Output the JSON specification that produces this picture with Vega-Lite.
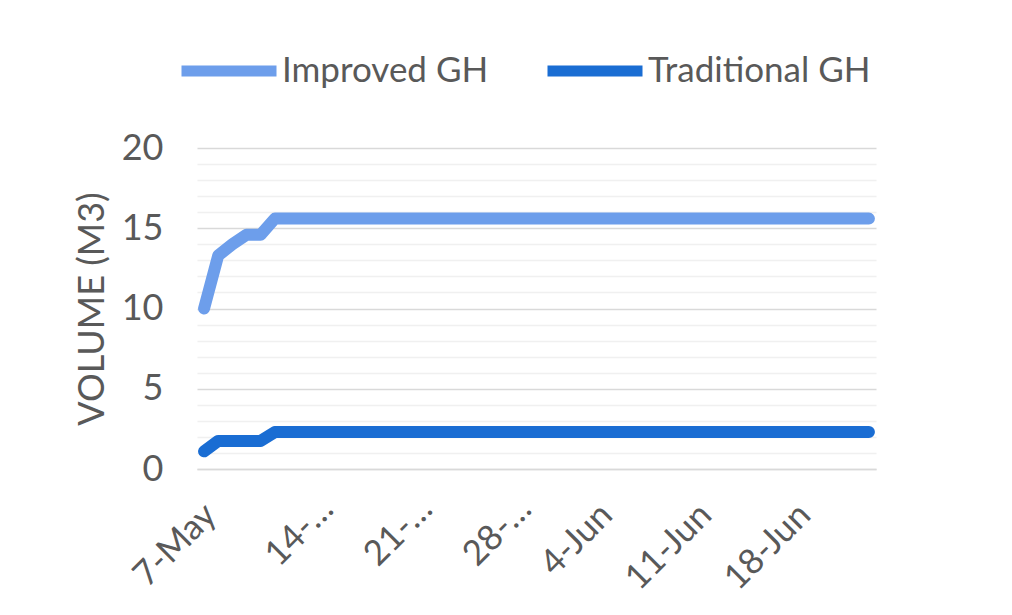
{
  "$schema": "https://vega.github.io/schema/vega-lite/v6.json",
  "autosize": {"type": "none"},
  "width": 679,
  "height": 321,
  "padding": {"left": 197, "top": 148, "right": 136, "bottom": 146},
  "background": "white",
  "config": {
    "view": {"stroke": null},
    "font": "Lato",
    "axis": {"labelFont": "Lato", "titleFont": "Lato"},
    "legend": {"labelFont": "Lato"}
  },
  "data": {
    "values": [
      {"date": "2023-05-07", "Improved GH": 10.0, "Traditional GH": 1.1},
      {"date": "2023-05-08", "Improved GH": 13.3, "Traditional GH": 1.75},
      {"date": "2023-05-09", "Improved GH": 14.0, "Traditional GH": 1.75},
      {"date": "2023-05-10", "Improved GH": 14.6, "Traditional GH": 1.75},
      {"date": "2023-05-11", "Improved GH": 14.6, "Traditional GH": 1.75},
      {"date": "2023-05-12", "Improved GH": 15.6, "Traditional GH": 2.3},
      {"date": "2023-05-13", "Improved GH": 15.6, "Traditional GH": 2.3},
      {"date": "2023-05-14", "Improved GH": 15.6, "Traditional GH": 2.3},
      {"date": "2023-05-15", "Improved GH": 15.6, "Traditional GH": 2.3},
      {"date": "2023-05-16", "Improved GH": 15.6, "Traditional GH": 2.3},
      {"date": "2023-05-17", "Improved GH": 15.6, "Traditional GH": 2.3},
      {"date": "2023-05-18", "Improved GH": 15.6, "Traditional GH": 2.3},
      {"date": "2023-05-19", "Improved GH": 15.6, "Traditional GH": 2.3},
      {"date": "2023-05-20", "Improved GH": 15.6, "Traditional GH": 2.3},
      {"date": "2023-05-21", "Improved GH": 15.6, "Traditional GH": 2.3},
      {"date": "2023-05-22", "Improved GH": 15.6, "Traditional GH": 2.3},
      {"date": "2023-05-23", "Improved GH": 15.6, "Traditional GH": 2.3},
      {"date": "2023-05-24", "Improved GH": 15.6, "Traditional GH": 2.3},
      {"date": "2023-05-25", "Improved GH": 15.6, "Traditional GH": 2.3},
      {"date": "2023-05-26", "Improved GH": 15.6, "Traditional GH": 2.3},
      {"date": "2023-05-27", "Improved GH": 15.6, "Traditional GH": 2.3},
      {"date": "2023-05-28", "Improved GH": 15.6, "Traditional GH": 2.3},
      {"date": "2023-05-29", "Improved GH": 15.6, "Traditional GH": 2.3},
      {"date": "2023-05-30", "Improved GH": 15.6, "Traditional GH": 2.3},
      {"date": "2023-05-31", "Improved GH": 15.6, "Traditional GH": 2.3},
      {"date": "2023-06-01", "Improved GH": 15.6, "Traditional GH": 2.3},
      {"date": "2023-06-02", "Improved GH": 15.6, "Traditional GH": 2.3},
      {"date": "2023-06-03", "Improved GH": 15.6, "Traditional GH": 2.3},
      {"date": "2023-06-04", "Improved GH": 15.6, "Traditional GH": 2.3},
      {"date": "2023-06-05", "Improved GH": 15.6, "Traditional GH": 2.3},
      {"date": "2023-06-06", "Improved GH": 15.6, "Traditional GH": 2.3},
      {"date": "2023-06-07", "Improved GH": 15.6, "Traditional GH": 2.3},
      {"date": "2023-06-08", "Improved GH": 15.6, "Traditional GH": 2.3},
      {"date": "2023-06-09", "Improved GH": 15.6, "Traditional GH": 2.3},
      {"date": "2023-06-10", "Improved GH": 15.6, "Traditional GH": 2.3},
      {"date": "2023-06-11", "Improved GH": 15.6, "Traditional GH": 2.3},
      {"date": "2023-06-12", "Improved GH": 15.6, "Traditional GH": 2.3},
      {"date": "2023-06-13", "Improved GH": 15.6, "Traditional GH": 2.3},
      {"date": "2023-06-14", "Improved GH": 15.6, "Traditional GH": 2.3},
      {"date": "2023-06-15", "Improved GH": 15.6, "Traditional GH": 2.3},
      {"date": "2023-06-16", "Improved GH": 15.6, "Traditional GH": 2.3},
      {"date": "2023-06-17", "Improved GH": 15.6, "Traditional GH": 2.3},
      {"date": "2023-06-18", "Improved GH": 15.6, "Traditional GH": 2.3},
      {"date": "2023-06-19", "Improved GH": 15.6, "Traditional GH": 2.3},
      {"date": "2023-06-20", "Improved GH": 15.6, "Traditional GH": 2.3},
      {"date": "2023-06-21", "Improved GH": 15.6, "Traditional GH": 2.3},
      {"date": "2023-06-22", "Improved GH": 15.6, "Traditional GH": 2.3},
      {"date": "2023-06-23", "Improved GH": 15.6, "Traditional GH": 2.3}
    ]
  },
  "transform": [
    {"fold": ["Improved GH", "Traditional GH"], "as": ["series", "volume"]}
  ],
  "mark": {"type": "line", "strokeWidth": 12, "strokeCap": "round", "strokeJoin": "round"},
  "encoding": {
    "x": {
      "field": "date",
      "type": "temporal",
      "scale": {
        "type": "utc",
        "domain": [
          {"year": 2023, "month": 5, "date": 6, "hours": 12, "utc": true},
          {"year": 2023, "month": 6, "date": 23, "hours": 12, "utc": true}
        ]
      },
      "axis": {
        "title": null,
        "values": [
          {"year": 2023, "month": 5, "date": 7, "utc": true},
          {"year": 2023, "month": 5, "date": 14, "utc": true},
          {"year": 2023, "month": 5, "date": 21, "utc": true},
          {"year": 2023, "month": 5, "date": 28, "utc": true},
          {"year": 2023, "month": 6, "date": 4, "utc": true},
          {"year": 2023, "month": 6, "date": 11, "utc": true},
          {"year": 2023, "month": 6, "date": 18, "utc": true}
        ],
        "labelExpr": "utcdate(datum.value) + '-' + (utcmonth(datum.value) == 4 ? (utcdate(datum.value) == 7 ? 'May' : '…') : 'Jun')",
        "labelAngle": -45,
        "labelAlign": "right",
        "labelBaseline": "middle",
        "labelFontSize": 35,
        "labelColor": "#595959",
        "labelPadding": {"condition": {"test": "utcmonth(datum.value) == 4 && utcdate(datum.value) > 7", "value": 34}, "value": 40},
        "labelOffset": {"condition": {"test": "utcmonth(datum.value) == 4 && utcdate(datum.value) > 7", "value": 24}, "value": 6},
        "labelOverlap": false,
        "labelBound": false,
        "labelLimit": 0,
        "ticks": false,
        "domain": true,
        "domainColor": "#d9d9d9",
        "domainWidth": 1.5,
        "grid": false
      }
    },
    "y": {
      "field": "volume",
      "type": "quantitative",
      "scale": {"domain": [0, 20], "nice": false, "zero": true},
      "axis": {
        "title": "VOLUME (M3)",
        "titleFontSize": 36,
        "titleFontWeight": "normal",
        "titleColor": "#595959",
        "titlePadding": 10,
        "values": [0, 1, 2, 3, 4, 5, 6, 7, 8, 9, 10, 11, 12, 13, 14, 15, 16, 17, 18, 19, 20],
        "labelExpr": "datum.value % 5 === 0 ? datum.label : ''",
        "labelFontSize": 36,
        "labelColor": "#595959",
        "labelPadding": 34,
        "ticks": false,
        "domain": false,
        "grid": true,
        "gridColor": {"condition": {"test": "datum.value % 5 === 0", "value": "#d9d9d9"}, "value": "#f0f0f0"},
        "gridWidth": 1.5
      }
    },
    "color": {
      "field": "series",
      "type": "nominal",
      "scale": {"domain": ["Improved GH", "Traditional GH"], "range": ["#6D9EEB", "#1A6DD3"]},
      "legend": {
        "title": null,
        "orient": "none",
        "direction": "horizontal",
        "legendX": -21,
        "legendY": -130,
        "symbolType": "stroke",
        "symbolSize": 9025,
        "symbolStrokeWidth": 11,
        "labelFontSize": 35,
        "labelColor": "#595959",
        "labelLimit": 0,
        "labelOffset": 0,
        "columnPadding": 36
      }
    }
  }
}
